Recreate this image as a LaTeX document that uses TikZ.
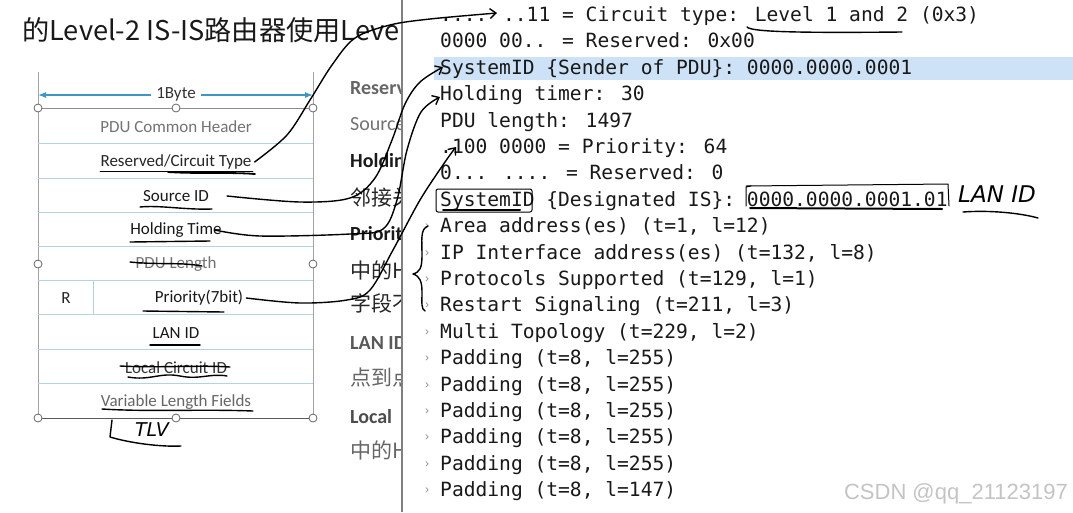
\documentclass[tikz,border=0pt]{standalone}
\usepackage{fontspec}
\setmainfont{Carlito}
\newfontfamily\cjk{Noto Sans CJK SC}
\newfontfamily\monof{DejaVu Sans Mono}
\newfontfamily\handf{DejaVu Sans}
\newfontfamily\wmf{Liberation Sans}
\usetikzlibrary{arrows.meta}
\definecolor{tline}{HTML}{B3D4DE}
\definecolor{frame}{HTML}{8C8C8C}
\definecolor{dimblue}{HTML}{3C96C8}
\definecolor{hilite}{HTML}{CDE2F6}
\definecolor{wm}{HTML}{C4C4C4}
\tikzset{
  mono/.style={anchor=base west, inner sep=0pt, text=black!90, font=\monof\fontsize{19.6}{22}\selectfont},
  chev/.style={anchor=base west, inner sep=0pt, text=black!45, font=\wmf\fontsize{12}{13}\selectfont},
  cell/.style={inner sep=1pt, font=\fontsize{17}{18}\selectfont},
  mid/.style={anchor=base west, inner sep=0pt, font=\fontsize{20}{22}\selectfont},
  midc/.style={anchor=base west, inner sep=0pt, font=\cjk\fontsize{21}{22}\selectfont},
  hand/.style={black, line width=1.4pt, line cap=round, line join=round},
  harrow/.style={hand, -{Straight Barb[length=6pt,width=10pt]}},
  handle/.style={circle, draw=black!60, fill=white, line width=0.8pt, minimum size=8pt, inner sep=0pt},
}
\begin{document}
\begin{tikzpicture}[x=1pt,y=-1pt]
\useasboundingbox (0,0) rectangle (1073,512);
\fill[white] (0,0) rectangle (1073,512);

% ---------- left slide (clipped at panel edge) ----------
\begin{scope}
\clip (0,0) rectangle (401,512);
\node[anchor=base west, inner sep=0pt, font=\cjk\fontsize{27.2}{29}\selectfont, text=black!90] (title) at (22,40)
  {的Level-2 IS-IS路由器使用Level};
\node[mid, text=black!60, font=\bfseries\fontsize{20}{22}\selectfont] (m1) at (350,94) {Reserv};
\node[mid, text=black!55] (m2) at (350,130) {Source};
\node[mid, text=black!90, font=\bfseries\fontsize{20}{22}\selectfont] (m3) at (350,167) {Holdin};
\node[midc, text=black!85] (m4) at (350,205) {邻接关};
\node[mid, text=black!90, font=\bfseries\fontsize{20}{22}\selectfont] (m5) at (350,240) {Priorit};
\node[midc, text=black!85] (m6) at (350,278) {中的H};
\node[midc, text=black!85] (m7) at (350,311) {字段不};
\node[mid, text=black!65, font=\bfseries\fontsize{20}{22}\selectfont] (m8) at (350,349) {LAN ID};
\node[midc, text=black!60] (m9) at (350,385) {点到点};
\node[mid, text=black!70, font=\bfseries\fontsize{20}{22}\selectfont] (m10) at (350,423) {Local};
\node[midc, text=black!60] (m11) at (350,458) {中的H};
\end{scope}

% table frame
\draw[frame!80, line width=0.8pt] (38,72) -- (38,418) (313,72) -- (313,418);
\foreach \yy in {143,178,212,246,280,314,349,383}
  \draw[tline, line width=1pt] (38,\yy) -- (313,\yy);
\draw[tline, line width=1pt] (93,280) -- (93,314);
\draw[frame, line width=0.9pt] (38,108) -- (313,108);
\draw[black!65, line width=0.9pt] (38,418) -- (313,418);
\draw[dimblue, line width=1.2pt, {Latex[length=8pt,width=6pt]}-{Latex[length=8pt,width=6pt]}] (38,95) -- (313,95);
\node[cell, fill=white, inner xsep=5pt, text=black!80] (byte) at (176,94) {1Byte};
\foreach \p in {(38,108),(176,108),(313,108),(38,264),(313,264),(38,418),(176,418),(313,418)}
  \node[handle] at \p {};

\node[cell, text=black!55] (pch) at (176,127) {PDU Common Header};
\node[cell, text=black!85] (rct) at (176,162) {Reserved/Circuit Type};
\node[cell, text=black!90] (sid) at (176,196) {Source ID};
\node[cell, text=black!90] (hdt) at (176,230) {Holding Time};
\node[cell, text=black!55] (pdul) at (176,264) {PDU Length};
\node[cell, text=black!85] (rr) at (66,298) {R};
\node[cell, text=black!90] (pri) at (199,298) {Priority(7bit)};
\node[cell, text=black!90] (lan) at (176,333) {LAN ID};
\node[cell, text=black!80] (lci) at (176,368) {Local Circuit ID};
\node[cell, text=black!60] (vlf) at (176,402) {Variable Length Fields};

% hand marks on table
\draw[hand, line width=0.7pt] (100,171) -- (253,171);
\draw[hand, line width=1.8pt] (168,172) .. controls (200,174) and (230,172) .. (255,174);
\draw[hand] (140,207) .. controls (160,205) and (185,210) .. (212,209);
\draw[hand] (130,242) -- (210,241);
\draw[hand] (130,262) .. controls (160,265) and (180,262) .. (202,266);
\draw[hand] (143,311) -- (224,312);
\draw[hand] (150,345) -- (200,345);
\draw[hand] (120,366) .. controls (160,368) and (200,365) .. (230,367);
\draw[hand] (128,377) .. controls (150,381) and (160,372) .. (180,376) .. controls (200,380) and (210,373) .. (227,376);
\draw[hand] (102,409) .. controls (150,412) and (200,409) .. (253,411);
\draw[hand] (112,420) -- (110,437) .. controls (130,443) and (160,447) .. (181,446);
\node[inner sep=0pt, font=\handf\itshape\fontsize{19}{20}\selectfont] (tlv) at (152,430) {TLV};

% ---------- right panel ----------
\fill[hilite] (434,57) rectangle (1073,80);
\draw[black!50, line width=1.6pt] (402,0) -- (402,512);

\node[mono] (l1) at (440,21.5) {.... ..11 = Circuit type: Level 1 and 2 (0x3)};
\node[mono] (l2) at (440,47.9) {0000 00.. = Reserved: 0x00};
\node[mono] (l3) at (440,74.3) {SystemID \{Sender of PDU\}: 0000.0000.0001};
\node[mono] (l4) at (440,100.7) {Holding timer: 30};
\node[mono] (l5) at (440,127.1) {PDU length: 1497};
\node[mono] (l6) at (440,153.5) {.100 0000 = Priority: 64};
\node[mono] (l7) at (440,179.9) {0... .... = Reserved: 0};
\node[mono] (l8) at (440,206.3) {SystemID \{Designated IS\}: 0000.0000.0001.01};
\node[mono] (l9) at (440,232.7) {Area address(es) (t=1, l=12)};
\node[mono] (l10) at (440,259.1) {IP Interface address(es) (t=132, l=8)};
\node[mono] (l11) at (440,285.5) {Protocols Supported (t=129, l=1)};
\node[mono] (l12) at (440,311.9) {Restart Signaling (t=211, l=3)};
\node[mono] (l13) at (440,338.3) {Multi Topology (t=229, l=2)};
\node[mono] (l14) at (440,364.7) {Padding (t=8, l=255)};
\node[mono] (l15) at (440,391.1) {Padding (t=8, l=255)};
\node[mono] (l16) at (440,417.5) {Padding (t=8, l=255)};
\node[mono] (l17) at (440,443.9) {Padding (t=8, l=255)};
\node[mono] (l18) at (440,470.3) {Padding (t=8, l=255)};
\node[mono] (l19) at (440,496.7) {Padding (t=8, l=147)};
\foreach \yy in {232.7,259.1,285.5,311.9,338.3,364.7,391.1,417.5,443.9,470.3,496.7}
  \node[chev] at (425,\yy-3) {›};

\node[anchor=east, inner sep=0pt, text=wm, font=\wmf\fontsize{22}{24}\selectfont] (wmk) at (1068,494) {CSDN @qq\_21123197};

% marks on panel
\draw[hand] (747,27) .. controls (751,32) and (800,33) .. (902,32);
\draw[hand, line width=1pt, rounded corners=2pt] (436,189) rectangle (532,212);
\draw[hand, line width=2pt] (443,210) -- (520,210);
\draw[hand, line width=1pt] (751,186) -- (746,187) -- (746,206);
\draw[hand, line width=1pt] (746,186) -- (948,184) -- (949,206);
\draw[hand, line width=2pt] (750,208) -- (942,209);
\node[inner sep=0pt, font=\handf\itshape\fontsize{23}{24}\selectfont] (lanid) at (997,194) {LAN ID};
\draw[hand] (963,212) .. controls (990,210) and (1020,213) .. (1038,218);
% brace
\draw[hand] (428,226) .. controls (420,229) and (422,240) .. (422,255) .. controls (422,268) and (420,272) .. (413,274) .. controls (420,276) and (422,282) .. (422,292) .. controls (422,303) and (421,309) .. (425,311);

% connectors from table fields to decoded lines
\coordinate (a1) at (497,13);
\coordinate (a2) at (443,67);
\coordinate (a3) at (440,97);
\coordinate (a4) at (456,147);
\draw[harrow] plot[smooth, tension=0.55] coordinates {([xshift=2pt]rct.east) (287,135) (310,100) (332,65) (355,38) (390,25) (430,19) (a1)};
\draw[harrow] plot[smooth, tension=0.55] coordinates {([xshift=17pt]sid.east) (300,202) (350,198) (375,178) (392,140) (405,104) (420,82) (a2)};
\draw[harrow] plot[smooth, tension=0.55] coordinates {([xshift=-8pt]hdt.east) (260,236) (350,234) (383,229) (397,200) (407,150) (421,112) (a3)};
\draw[harrow] plot[smooth, tension=0.55] coordinates {([xshift=2pt]pri.east) (300,303) (347,300) (370,290) (393,250) (420,200) (445,162) (a4)};
\end{tikzpicture}
\end{document}
